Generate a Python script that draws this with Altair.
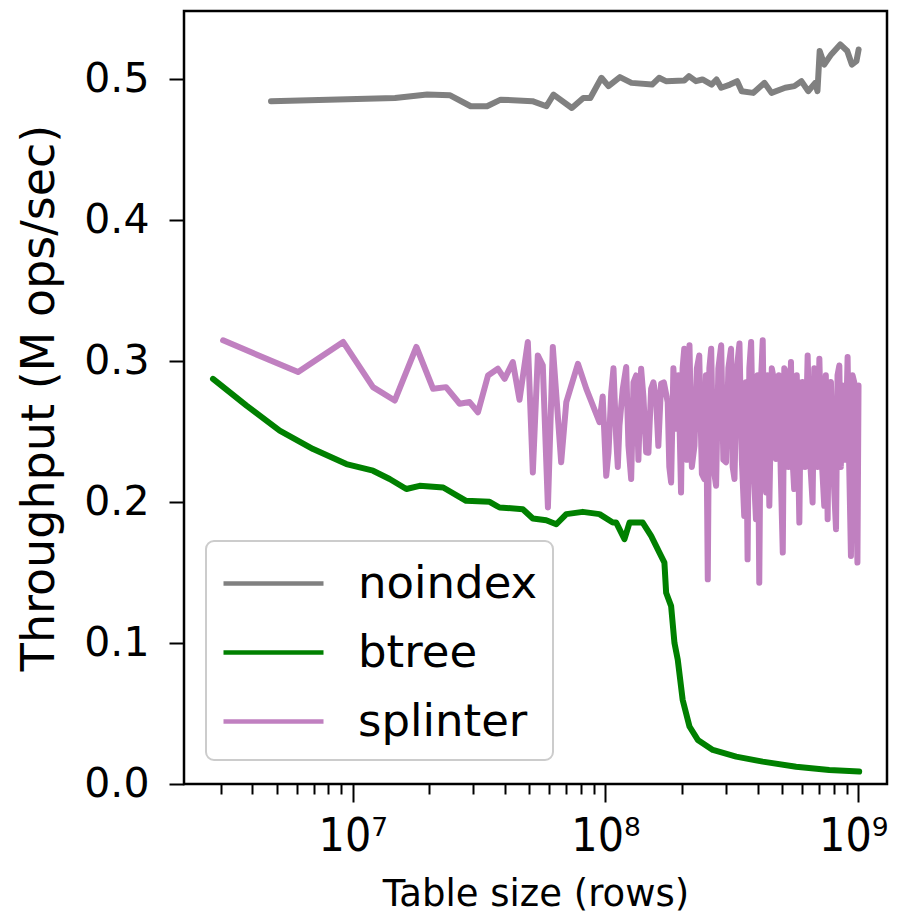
import altair as alt
import pandas as pd

# ---- data ----
series_names = ["noindex", "btree", "splinter"]
series_colors = ["#808080", "#008000", "#c080c0"]

noindex_rows = [4.75e6, 1.47e7, 1.97e7, 2.43e7, 2.93e7, 3.40e7, 3.85e7, 5.14e7, 5.84e7, 6.23e7,
                7.36e7, 8.17e7, 8.71e7, 9.64e7, 1.028e8, 1.141e8, 1.267e8, 1.530e8, 1.630e8, 1.735e8,
                2.05e8, 2.14e8, 2.28e8, 2.42e8, 2.63e8, 2.75e8, 2.87e8, 3.11e8, 3.32e8, 3.46e8,
                3.84e8, 4.26e8, 4.54e8, 5.14e8, 5.59e8, 5.96e8, 6.34e8, 6.76e8, 6.90e8, 7.04e8,
                7.34e8, 7.82e8, 8.49e8, 9.05e8, 9.44e8, 9.84e8, 1.004e9]
noindex_tput = [0.4845, 0.4868, 0.4892, 0.4887, 0.4809, 0.4809, 0.4856, 0.4845, 0.4809, 0.4892,
                0.4797, 0.4868, 0.4868, 0.5011, 0.4952, 0.5016, 0.4975, 0.4963, 0.5011, 0.4987,
                0.4992, 0.5023, 0.4987, 0.4999, 0.4963, 0.4999, 0.4940, 0.4963, 0.4987, 0.4916,
                0.4904, 0.4975, 0.4904, 0.4940, 0.4952, 0.4987, 0.4916, 0.4975, 0.4916, 0.5201,
                0.5105, 0.5177, 0.5248, 0.5201, 0.5105, 0.5129, 0.5212]

btree_rows = [2.80e6, 3.80e6, 5.14e6, 6.97e6, 9.44e6, 1.203e7, 1.40e7, 1.63e7, 1.84e7, 2.28e7,
              2.81e7, 3.48e7, 3.81e7, 4.71e7, 5.16e7, 5.83e7, 6.39e7, 7.00e7, 8.13e7, 9.47e7,
              1.069e8, 1.103e8, 1.189e8, 1.245e8, 1.404e8, 1.516e8, 1.635e8, 1.711e8, 1.738e8, 1.819e8,
              1.875e8, 1.932e8, 2.02e8, 2.15e8, 2.32e8, 2.66e8, 3.29e8, 4.19e8, 5.68e8, 7.68e8, 1.009e9]
btree_tput = [0.2875, 0.2685, 0.2508, 0.2377, 0.2270, 0.2223, 0.2164, 0.2093, 0.2116, 0.2104,
              0.2009, 0.2002, 0.1962, 0.1950, 0.1884, 0.1872, 0.1843, 0.1915, 0.1931, 0.1915,
              0.1855, 0.1855, 0.1737, 0.1855, 0.1855, 0.1760, 0.1642, 0.1571, 0.1357, 0.1262,
              0.1001, 0.0883, 0.0598, 0.0408, 0.0313, 0.0242, 0.0194, 0.0159, 0.0123, 0.0100, 0.0088]

splinter_rows = [3.07e6, 6.08e6, 9.16e6, 1.203e7, 1.466e7, 1.786e7, 2.08e7, 2.34e7, 2.65e7, 2.90e7,
                 3.13e7, 3.43e7, 3.75e7, 3.99e7, 4.30e7, 4.57e7, 4.93e7, 5.16e7, 5.40e7, 5.65e7,
                 5.92e7, 6.19e7, 6.68e7, 7.00e7, 7.78e7, 8.40e7, 9.47e7, 1.007e8, 1.054e8, 1.103e8,
                 1.136e8, 1.208e8, 1.264e8, 1.322e8, 1.384e8, 1.449e8, 1.516e8, 1.586e8, 1.660e8, 1.763e8,
                 1.819e8, 1.902e8, 1.991e8, 2.05e8, 2.15e8, 2.25e8, 2.35e8, 2.46e8, 2.54e8, 2.62e8,
                 2.74e8, 2.87e8, 3.00e8, 3.14e8, 3.24e8, 3.39e8, 3.54e8, 3.65e8, 3.77e8, 3.94e8,
                 4.06e8, 4.19e8, 4.32e8, 4.45e8, 4.66e8, 4.73e8, 5.03e8, 5.18e8, 5.42e8, 5.58e8,
                 5.85e8, 6.03e8, 6.31e8, 6.60e8, 6.81e8, 7.02e8, 7.34e8, 7.57e8, 7.80e8, 8.17e8,
                 8.42e8, 8.67e8, 9.08e8, 9.36e8, 9.64e8, 9.93e8, 1.003e9]
splinter_tput = [0.3148, 0.2923, 0.3137, 0.2816, 0.2721, 0.3101, 0.2804, 0.2816, 0.2698, 0.2710,
                 0.2638, 0.2899, 0.2947, 0.2875, 0.2994, 0.2726, 0.3137, 0.2211, 0.3041, 0.2970,
                 0.1962, 0.3101, 0.2283, 0.2710, 0.2982, 0.2804, 0.2567, 0.2187, 0.2781, 0.2448,
                 0.2543, 0.2959, 0.2164, 0.2899, 0.2947, 0.2354, 0.2804, 0.2733, 0.2840, 0.2710,
                 0.2140, 0.2520, 0.2069, 0.3089, 0.3113, 0.2401, 0.3041, 0.2164, 0.1452, 0.3089,
                 0.2116, 0.3113, 0.2283, 0.3089, 0.2164, 0.3125, 0.1902, 0.1594, 0.3137, 0.1879,
                 0.1428, 0.3148, 0.2069, 0.1974, 0.2852, 0.2306, 0.1642, 0.2923, 0.2994, 0.2093,
                 0.1855, 0.2852, 0.3041, 0.1998, 0.2828, 0.3018, 0.1974, 0.1879, 0.2852, 0.1808,
                 0.2970, 0.2828, 0.3030, 0.1618, 0.2852, 0.1571, 0.2828]
# extra samples inside the noisy splinter band (1e8 .. 1e9)
splinter_dense_rows = [9.75e7, 1.028e8, 1.076e8, 1.119e8, 1.170e8, 1.233e8, 1.291e8, 1.350e8,
                       1.413e8, 1.479e8, 1.548e8, 1.619e8, 1.702e8,
                       1.789e8, 1.857e8, 1.944e8, 2.019e8, 2.100e8, 2.197e8, 2.300e8, 2.407e8,
                       2.498e8, 2.577e8, 2.673e8, 2.797e8, 2.927e8, 3.064e8, 3.186e8, 3.311e8,
                       3.464e8, 3.595e8, 3.709e8, 3.853e8, 3.999e8, 4.121e8, 4.251e8, 4.380e8,
                       4.551e8, 4.851e8, 4.940e8, 5.100e8, 5.298e8, 5.500e8, 5.714e8, 5.932e8,
                       6.163e8, 6.450e8, 6.701e8, 6.905e8, 7.173e8, 7.445e8, 7.680e8, 7.980e8,
                       8.283e8, 8.535e8, 8.885e8, 9.215e8, 9.496e8, 9.784e8]
splinter_dense_tput = [0.2750, 0.2350, 0.2950, 0.2250, 0.2800, 0.2400, 0.2850, 0.2300,
                       0.2750, 0.2350, 0.2850, 0.2400, 0.2850,
                       0.2250, 0.2950, 0.2900, 0.2950, 0.2300, 0.2250, 0.2950, 0.2200,
                       0.2900, 0.2950, 0.2250, 0.2950, 0.2300, 0.2950, 0.2250, 0.2950,
                       0.2300, 0.2850, 0.2950, 0.2250, 0.2900, 0.2850, 0.2300, 0.2900,
                       0.2950, 0.2900, 0.2200, 0.2950, 0.2250, 0.2300, 0.2900, 0.2850,
                       0.2250, 0.2300, 0.2950, 0.2250, 0.2300, 0.2900, 0.2850, 0.2200,
                       0.2900, 0.2250, 0.2300, 0.2250, 0.2900, 0.2200]

x_tick_values = [2000000, 3000000, 4000000, 5000000, 6000000, 7000000, 8000000, 9000000,
                 10000000, 20000000, 30000000, 40000000, 50000000, 60000000, 70000000, 80000000, 90000000,
                 100000000, 200000000, 300000000, 400000000, 500000000, 600000000, 700000000,
                 800000000, 900000000, 1000000000]
y_tick_values = [0.0, 0.1, 0.2, 0.3, 0.4, 0.5]
x_domain = [2.15e6, 1.30e9]
y_domain = [0.0, 0.5485]

# ---- table ----
frames = [
    pd.DataFrame({"rows": noindex_rows, "tput": noindex_tput, "series": "noindex", "s": 0}),
    pd.DataFrame({"rows": btree_rows, "tput": btree_tput, "series": "btree", "s": 1}),
    pd.DataFrame({"rows": splinter_rows + splinter_dense_rows,
                  "tput": splinter_tput + splinter_dense_tput, "series": "splinter", "s": 2}),
]
df = pd.concat(frames, ignore_index=True)
df = df.sort_values(["s", "rows"]).reset_index(drop=True)
df["order"] = range(len(df))

major_test = "datum.value == 10000000 || datum.value == 100000000 || datum.value == 1000000000"
label_expr = ("datum.value == 10000000 ? '10\u2077' : datum.value == 100000000 ? '10\u2078' : "
              "datum.value == 1000000000 ? '10\u2079' : ''")

chart = alt.Chart(df).mark_line(strokeWidth=6, strokeJoin="round", strokeCap="round").encode(
    x=alt.X("rows:Q",
            scale=alt.Scale(type="log", domain=x_domain, nice=False, zero=False),
            axis=alt.Axis(values=x_tick_values, labelExpr=label_expr,
                          tickSize={"condition": {"test": major_test, "value": 18}, "value": 10},
                          tickWidth=2, tickColor="black", domain=False, grid=False,
                          labelFont="Liberation Sans Narrow, DejaVu Sans Condensed, DejaVu Sans",
                          labelFontSize=46, labelColor="black", labelPadding=12,
                          labelOffset={"condition": {"test": "datum.value == 1000000000",
                                                     "value": -5}, "value": 0},
                          labelOverlap=False, labelFlush=False,
                          title="Table size (rows)", titleFont="DejaVu Sans", titleFontSize=37,
                          titleFontWeight="normal", titleColor="black", titlePadding=17)),
    y=alt.Y("tput:Q",
            scale=alt.Scale(domain=y_domain, nice=False, zero=False),
            axis=alt.Axis(values=y_tick_values, format=".1f", tickSize=15, tickWidth=2,
                          tickColor="black", domain=False, grid=False,
                          labelFont="DejaVu Sans", labelFontSize=41, labelColor="black",
                          labelPadding=20,
                          title="Throughput (M ops/sec)", titleFont="DejaVu Sans",
                          titleFontSize=46, titleFontWeight="normal", titleColor="black",
                          titlePadding=20)),
    color=alt.Color("series:N",
                    scale=alt.Scale(domain=series_names, range=series_colors),
                    legend=alt.Legend(title=None, orient="none", legendX=22, legendY=530,
                                      padding=15, strokeColor="#cccccc", cornerRadius=8,
                                      fillColor="rgba(255,255,255,0.8)",
                                      symbolType="M-1,0H3", symbolSize=2500,
                                      symbolStrokeWidth=4.5, labelFont="DejaVu Sans",
                                      labelFontSize=45, labelColor="black", labelOffset=82,
                                      labelLimit=1000, rowPadding=18)),
    detail="series:N",
    order=alt.Order("order:Q"),
).properties(
    width=703,
    height=773,
    autosize=alt.AutoSizeParams(type="none"),
    padding={"left": 176, "top": 3, "right": 6, "bottom": 134},
).configure_view(
    stroke="black", strokeWidth=2.5
).configure_legend(
    strokeWidth=2
)

chart.save("out.html", embed_options={"renderer": "svg", "actions": False})
